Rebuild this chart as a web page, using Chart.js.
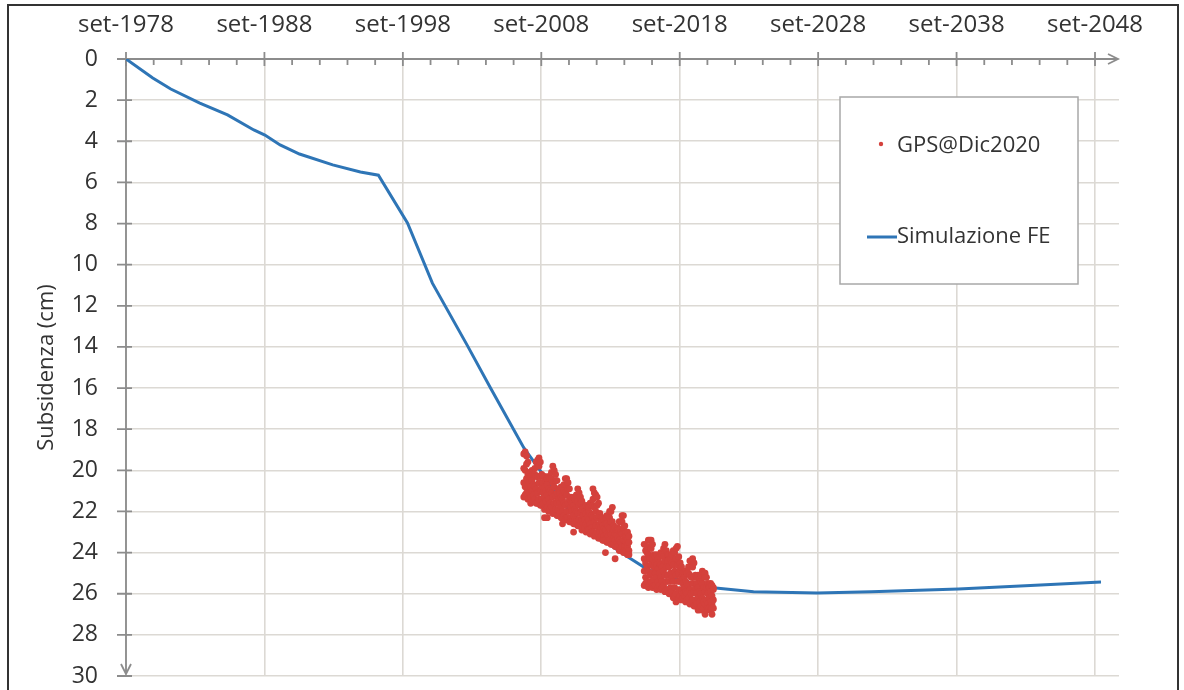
<!DOCTYPE html>
<html>
<head>
<meta charset="utf-8">
<script src="https://cdn.jsdelivr.net/npm/chart.js@4.4.1/dist/chart.umd.min.js"></script>
<style>
  html, body { margin: 0; padding: 0; background: #fff; }
  #wrap { position: relative; width: 1184px; height: 690px; overflow: hidden; }
  #frame { position: absolute; left: 7px; top: 4px; width: 1172px; height: 720px; border: 2px solid #333; box-sizing: border-box; pointer-events: none; }
  canvas { position: absolute; left: 0; top: 0; }
</style>
</head>
<body>
<div id="wrap">
  <canvas id="chart" width="1184" height="690"></canvas>
  <div id="frame"></div>
</div>
<script>
// x axis labels: "set-YYYY" (September of each decade)
const tickYears = [1978, 1988, 1998, 2008, 2018, 2028, 2038, 2048];
const tickMonth = 8 / 12; // settembre

// FE simulation curve (year, cm)
const feYears = [1978.67, 1980.6, 1981.9, 1984.0, 1986.0, 1987.9, 1988.7, 1989.8, 1991.2, 1993.6,
  1995.6, 1996.9, 1999.0, 2000.8, 2003.3, 2005.0, 2007.4, 2010.6, 2011.7, 2013.8,
  2014.9, 2016.3, 2018.5, 2020.9, 2024.0, 2028.6, 2032.5, 2038.8, 2044.0, 2049.1];
const feSubsidence = [0, 0.92, 1.46, 2.14, 2.72, 3.45, 3.7, 4.18, 4.62, 5.15,
  5.49, 5.65, 7.97, 10.9, 13.9, 16.0, 18.9, 21.9, 22.6, 23.7,
  24.2, 24.8, 25.3, 25.7, 25.9, 25.96, 25.9, 25.77, 25.6, 25.43];

// GPS readings, several per epoch (cm)
const gpsYears = [
  2007.4, 2007.5, 2007.6, 2007.7, 2007.8, 2007.9, 2008.0, 2008.1, 2008.2, 2008.3,
  2008.4, 2008.5, 2008.6, 2008.7, 2008.8, 2008.9, 2009.0, 2009.1, 2009.2, 2009.3,
  2009.4, 2009.5, 2009.6, 2009.7, 2009.8, 2009.9, 2010.0, 2010.1, 2010.2, 2010.3,
  2010.4, 2010.5, 2010.6, 2010.7, 2010.8, 2010.9, 2011.0, 2011.1, 2011.2, 2011.3,
  2011.4, 2011.5, 2011.6, 2011.7, 2011.8, 2011.9, 2012.0, 2012.1, 2012.2, 2012.3,
  2012.4, 2012.5, 2012.6, 2012.7, 2012.8, 2012.9, 2013.0, 2013.1, 2013.2, 2013.3,
  2013.4, 2013.5, 2013.6, 2013.7, 2013.8, 2013.9, 2014.0, 2014.1, 2014.2, 2014.3,
  2014.4, 2014.5, 2014.6, 2014.7, 2014.8, 2014.9, 2015.0,
  2016.1, 2016.2, 2016.3, 2016.4, 2016.5, 2016.6, 2016.7, 2016.8, 2016.9, 2017.0,
  2017.1, 2017.2, 2017.3, 2017.4, 2017.5, 2017.6, 2017.7, 2017.8, 2017.9, 2018.0,
  2018.1, 2018.2, 2018.3, 2018.4, 2018.5, 2018.6, 2018.7, 2018.8, 2018.9, 2019.0,
  2019.1, 2019.2, 2019.3, 2019.4, 2019.5, 2019.6, 2019.7, 2019.8, 2019.9, 2020.0,
  2020.1, 2020.2, 2020.3, 2020.4, 2020.5, 2020.6, 2020.7, 2020.8, 2020.9, 2021.0,
  2021.1
];
const gpsReadings = [
  [19.2, 19.9, 20.6, 21.3], [19.1, 20.0, 20.8, 21.2], [19.3, 19.7, 20.4, 21.1], [19.6, 20.2, 20.8, 21.4],
  [20.1, 20.6, 21.1, 21.4], [20.1, 20.3, 20.8, 21.3, 21.6], [20.0, 20.5, 21.0, 21.5], [20.2, 20.7, 21.2, 21.5],
  [19.9, 20.2, 20.8, 21.4], [19.6, 20.3, 20.9, 21.6], [19.5, 20.3, 21.1, 21.6], [19.4, 19.8, 20.6, 21.4],
  [19.6, 20.3, 21.0, 21.7], [20.2, 20.8, 21.4, 21.7], [20.3, 20.6, 21.1, 21.6], [20.3, 20.8, 21.3, 21.9, 22.3],
  [20.5, 21.0, 21.5, 21.8], [20.4, 20.7, 21.2, 21.8, 22.3], [20.3, 20.9, 21.4, 22.0], [20.4, 21.0, 21.6, 21.9],
  [20.1, 20.4, 21.1, 21.8], [19.8, 20.6, 21.3, 22.1], [20.0, 20.8, 21.6, 22.0], [20.2, 20.5, 21.2, 21.9],
  [20.5, 21.1, 21.6, 22.2], [20.9, 21.4, 21.9, 22.2], [20.9, 21.1, 21.6, 22.1], [20.8, 21.3, 21.8, 22.3],
  [20.9, 21.4, 22.0, 22.3, 22.6], [20.7, 21.0, 21.6, 22.2], [20.4, 21.1, 21.7, 22.4], [20.4, 21.2, 22.0, 22.3],
  [20.6, 20.9, 21.6, 22.3], [20.9, 21.4, 22.0, 22.5], [21.3, 21.8, 22.3, 22.5], [21.4, 21.6, 22.0, 22.5],
  [21.3, 21.7, 22.2, 22.6, 23.0], [21.4, 21.9, 22.4, 22.6], [21.2, 21.5, 22.0, 22.5], [20.9, 21.5, 22.1, 22.7],
  [21.1, 21.7, 22.4, 22.7], [21.3, 21.6, 22.1, 22.6], [21.5, 21.9, 22.4, 22.9], [21.8, 22.2, 22.6, 22.8],
  [21.8, 22.0, 22.4, 22.8], [21.7, 22.1, 22.6, 23.0], [21.8, 22.3, 22.7, 22.9], [21.8, 22.0, 22.4, 22.9],
  [21.6, 22.1, 22.6, 23.1], [21.7, 22.2, 22.8, 23.0], [20.9, 21.4, 21.7, 22.3, 23.0], [21.1, 21.8, 22.5, 23.2],
  [21.2, 22.0, 22.7, 23.1], [21.3, 21.7, 22.3, 23.0], [21.6, 22.2, 22.7, 23.3], [22.1, 22.6, 23.0, 23.3],
  [22.3, 22.5, 22.8, 23.2], [22.3, 22.7, 23.0, 23.4], [22.4, 22.8, 23.2, 23.4], [22.4, 22.6, 22.9, 23.4, 24.0],
  [22.2, 22.6, 23.1, 23.5], [22.2, 22.7, 23.2, 23.5], [22.0, 22.3, 22.8, 23.4], [22.0, 22.5, 23.1, 23.6],
  [21.8, 22.5, 23.0, 23.4, 23.6], [22.7, 22.9, 23.3, 23.6], [22.8, 23.1, 23.4, 23.7, 24.3], [22.9, 23.2, 23.6, 23.7],
  [22.8, 22.9, 23.3, 23.7], [22.5, 22.9, 23.4, 23.9], [22.5, 23.0, 23.5, 23.8], [22.2, 22.5, 23.1, 23.7],
  [22.2, 22.8, 23.4, 24.0], [22.7, 23.2, 23.7, 23.9], [23.0, 23.2, 23.5, 23.9], [23.0, 23.4, 23.7, 24.1],
  [23.2, 23.5, 23.9, 24.1],
  [23.6, 24.3, 24.9, 25.6], [23.9, 24.5, 25.2, 25.5], [23.7, 24.0, 24.7, 25.4], [23.4, 24.1, 24.9, 25.7],
  [23.4, 24.3, 25.1, 25.5], [23.4, 23.8, 24.6, 25.4], [23.6, 24.3, 25.0, 25.7], [24.1, 24.7, 25.3, 25.6],
  [24.2, 24.5, 25.0, 25.6], [24.1, 24.6, 25.2, 25.8], [24.3, 24.8, 25.4, 25.7], [24.2, 24.5, 25.0, 25.6],
  [24.0, 24.6, 25.2, 25.8], [24.1, 24.7, 25.4, 25.7], [23.8, 24.2, 24.9, 25.6], [23.6, 24.4, 25.1, 25.9],
  [23.9, 24.7, 25.4, 25.8], [24.1, 24.4, 25.1, 25.8], [24.1, 24.7, 25.4, 26.0], [24.3, 25.0, 25.7, 26.0],
  [24.1, 24.5, 25.2, 25.9], [23.9, 24.6, 25.4, 26.2], [24.0, 24.9, 25.7, 26.1], [23.8, 24.3, 25.1, 26.0, 26.4],
  [23.7, 24.6, 25.4, 26.3], [24.2, 25.0, 25.8, 26.2], [24.5, 24.8, 25.4, 26.1], [24.7, 25.2, 25.8, 26.3],
  [25.0, 25.5, 26.0, 26.2], [25.0, 25.2, 25.7, 26.1], [24.9, 25.4, 25.9, 26.4], [25.0, 25.5, 26.0, 26.3],
  [24.7, 25.0, 25.6, 26.2], [24.4, 25.1, 25.8, 26.5], [24.4, 25.2, 26.0, 26.4], [24.3, 24.7, 25.5, 26.3],
  [24.5, 25.2, 25.9, 26.6], [25.1, 25.7, 26.3, 26.6], [25.2, 25.5, 26.0, 26.5], [25.1, 25.7, 26.2, 26.8],
  [25.3, 25.9, 26.4, 26.7], [25.1, 25.4, 26.0, 26.6], [24.9, 25.5, 26.2, 26.8], [25.0, 25.7, 26.4, 26.7],
  [25.0, 25.2, 25.9, 26.5, 27.0], [25.2, 25.7, 26.3, 26.8], [25.5, 26.0, 26.5, 26.7], [25.6, 25.7, 26.2, 26.7],
  [25.5, 25.9, 26.4, 26.8], [25.6, 26.1, 26.5, 26.7, 27.0], [25.7, 25.8, 26.3, 26.7]
];

const gpsColor = '#d4413c';
const feColor = '#2e75b6';
const textColor = '#333333';
const gridColor = '#dcd9d4';
const axisColor = '#8c8c8c';
const fontFamily = "'Open Sans', 'Noto Sans', sans-serif";

const gpsPoints = gpsYears.flatMap((t, i) => gpsReadings[i].map(v => ({ x: t, y: v })));
const fePoints = feYears.map((t, i) => ({ x: t, y: feSubsidence[i] }));

// axis lines with arrows, tick marks, and the boxed legend
const decorPlugin = {
  id: 'decor',
  beforeDatasetsDraw(chart) {
    const { ctx, chartArea: a, scales: { x, y } } = chart;
    ctx.save();
    ctx.strokeStyle = axisColor;
    ctx.lineWidth = 1.8;
    const y0 = y.getPixelForValue(0);
    const x0 = x.getPixelForValue(tickYears[0] + tickMonth);
    const xEnd = a.right - 1;
    const yEnd = y.getPixelForValue(30) - 2;

    ctx.beginPath();
    ctx.moveTo(x0, y0); ctx.lineTo(xEnd, y0);
    ctx.moveTo(xEnd - 10, y0 - 5); ctx.lineTo(xEnd, y0); ctx.lineTo(xEnd - 10, y0 + 5);
    ctx.moveTo(x0, y0); ctx.lineTo(x0, yEnd);
    ctx.moveTo(x0 - 5, yEnd - 10); ctx.lineTo(x0, yEnd); ctx.lineTo(x0 + 5, yEnd - 10);
    ctx.stroke();

    ctx.beginPath();
    for (let yr = tickYears[0]; yr <= tickYears[tickYears.length - 1]; yr += 2) {
      const px = x.getPixelForValue(yr + tickMonth);
      if ((yr - tickYears[0]) % 10 === 0) {
        ctx.moveTo(px, y0 - 7); ctx.lineTo(px, y0 + 7);
      } else {
        ctx.moveTo(px, y0); ctx.lineTo(px, y0 + 6);
      }
    }
    y.ticks.forEach(t => {
      const py = y.getPixelForValue(t.value);
      ctx.moveTo(x0 - 9, py); ctx.lineTo(x0 + 6, py);
    });
    ctx.stroke();
    ctx.restore();
  },
  afterDraw(chart) {
    const { ctx } = chart;
    ctx.save();
    ctx.fillStyle = '#ffffff';
    ctx.fillRect(840, 97, 238, 187);
    ctx.strokeStyle = '#a8a8a8';
    ctx.lineWidth = 1.5;
    ctx.strokeRect(840, 97, 238, 187);

    ctx.font = `22px ${fontFamily}`;
    ctx.textBaseline = 'middle';
    ctx.textAlign = 'left';

    ctx.beginPath();
    ctx.fillStyle = gpsColor;
    ctx.arc(881, 144, 2.2, 0, Math.PI * 2);
    ctx.fill();
    ctx.fillStyle = textColor;
    ctx.fillText(chart.data.datasets[0].label, 897, 146);

    ctx.strokeStyle = feColor;
    ctx.lineWidth = 3;
    ctx.beginPath();
    ctx.moveTo(867, 237); ctx.lineTo(897, 237);
    ctx.stroke();
    ctx.fillText(chart.data.datasets[1].label, 897, 237);
    ctx.restore();
  }
};

new Chart(document.getElementById('chart'), {
  type: 'scatter',
  data: {
    datasets: [
      {
        label: 'GPS@Dic2020',
        data: gpsPoints,
        backgroundColor: gpsColor,
        borderWidth: 0,
        pointRadius: 3.4
      },
      {
        label: 'Simulazione FE',
        data: fePoints,
        showLine: true,
        borderColor: feColor,
        borderWidth: 3,
        pointRadius: 0,
        tension: 0
      }
    ]
  },
  options: {
    responsive: false,
    animation: false,
    layout: { padding: { top: 0, left: 0, right: 65, bottom: 14 } },
    plugins: { legend: { display: false }, tooltip: { enabled: false } },
    scales: {
      x: {
        type: 'linear',
        position: 'top',
        min: tickYears[0] + tickMonth,
        max: 2050.4,
        afterBuildTicks: (s) => { s.ticks = tickYears.map(yr => ({ value: yr + tickMonth })); },
        afterFit: (s) => { s.height = 59; s.paddingLeft = 0; s.paddingRight = 0; },
        grid: { color: gridColor, lineWidth: 1.6, drawTicks: false },
        border: { display: false },
        ticks: {
          autoSkip: false,
          maxRotation: 0,
          padding: 19,
          color: textColor,
          font: { family: fontFamily, size: 24 },
          callback: (v) => 'set-' + Math.floor(v)
        }
      },
      y: {
        type: 'linear',
        reverse: true,
        min: 0,
        max: 30,
        afterFit: (s) => { s.width = 126; s.paddingTop = 0; s.paddingBottom = 0; },
        grid: { color: gridColor, lineWidth: 1.6, drawTicks: false },
        border: { display: false },
        ticks: {
          stepSize: 2,
          padding: 28,
          color: textColor,
          font: { family: fontFamily, size: 23 }
        },
        title: {
          display: true,
          text: 'Subsidenza (cm)',
          color: textColor,
          font: { family: fontFamily, size: 22 },
          padding: { top: 34, bottom: 0 }
        }
      }
    }
  },
  plugins: [decorPlugin]
});
</script>
</body>
</html>
